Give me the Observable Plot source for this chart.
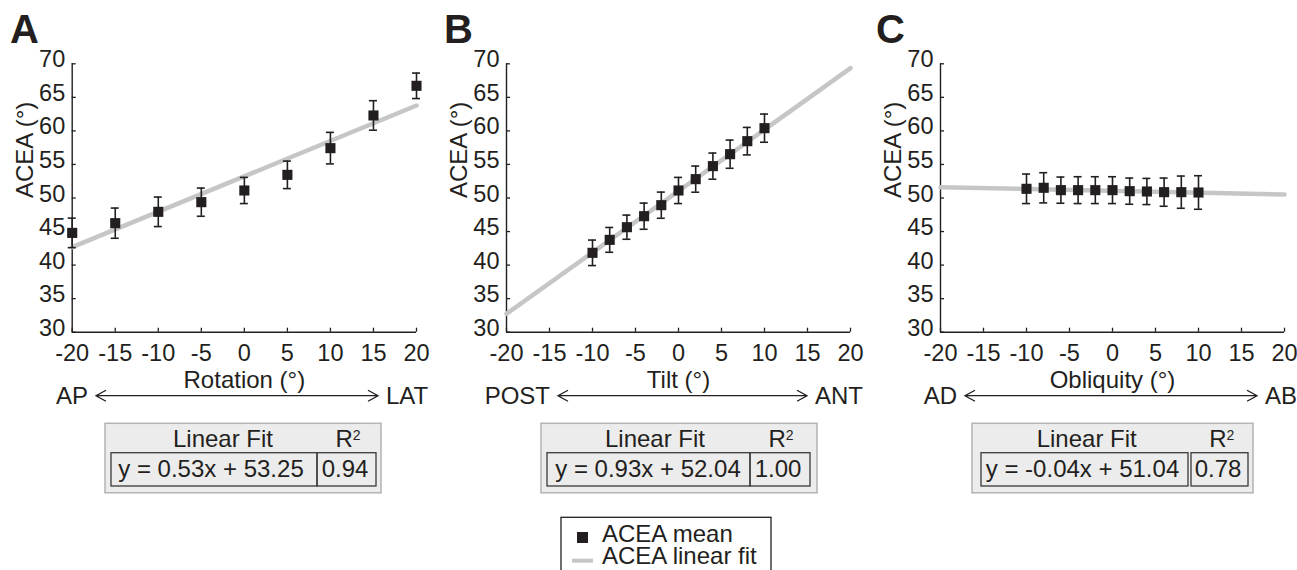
<!DOCTYPE html>
<html><head><meta charset="utf-8">
<script src="https://cdn.jsdelivr.net/npm/d3@7"></script>
<script src="https://cdn.jsdelivr.net/npm/@observablehq/plot@0.6"></script>
<style>
html,body{margin:0;padding:0;background:#fff;}
#root{position:relative;width:1297px;height:570px;overflow:hidden;font-family:"Liberation Sans",Arial,Helvetica,sans-serif;color:#231f20;}
#root svg{position:absolute;top:0;}
</style></head><body><div id="root"></div>
<script>
// ---------- data ----------
const xTicks = [-20, -15, -10, -5, 0, 5, 10, 15, 20];
const yTicks = [30, 35, 40, 45, 50, 55, 60, 65, 70];

const rotationX = [-20, -15, -10, -5, 0, 5, 10, 15, 20];
const rotationMean = [44.8, 46.25, 47.94, 49.38, 51.12, 53.45, 57.43, 62.3, 66.72];
const rotationErr = [2.2, 2.25, 2.2, 2.1, 1.95, 2.05, 2.35, 2.2, 1.9];
const rotationFitX = [-20, 20];
const rotationFitY = [42.67, 63.79];

const tiltX = [-10, -8, -6, -4, -2, 0, 2, 4, 6, 8, 10];
const tiltMean = [41.83, 43.76, 45.65, 47.29, 48.93, 51.12, 52.81, 54.75, 56.53, 58.47, 60.41];
const tiltErr = [1.9, 1.85, 1.8, 1.95, 1.95, 1.95, 1.95, 1.95, 2.1, 2.05, 2.1];
const tiltFitX = [-20, 20];
const tiltFitY = [32.73, 69.35];

const obliquityX = [-10, -8, -6, -4, -2, 0, 2, 4, 6, 8, 10];
const obliquityMean = [51.37, 51.52, 51.17, 51.17, 51.17, 51.17, 51.02, 50.97, 50.87, 50.87, 50.82];
const obliquityErr = [2.2, 2.25, 1.95, 2.0, 2.0, 2.0, 1.95, 1.95, 2.1, 2.4, 2.5];
const obliquityFitX = [-20, 20];
const obliquityFitY = [51.61, 50.52];

const panelLetters = ["A", "B", "C"];
const xLabels = ["Rotation (°)", "Tilt (°)", "Obliquity (°)"];
const leftEnds = ["AP", "POST", "AD"];
const rightEnds = ["LAT", "ANT", "AB"];
const fitEquations = ["y = 0.53x + 53.25", "y = 0.93x + 52.04", "y = -0.04x + 51.04"];
const rSquared = ["0.94", "1.00", "0.78"];
const yLabel = "ACEA (°)";
const fitHeader = "Linear Fit";
const legendLabels = ["ACEA mean", "ACEA linear fit"];

// ---------- style / layout ----------
const ink = "#231f20";
const fitGray = "#c6c6c6";
const FONT = "24px";
const TICKFONT = "23.5px";
const geoms = [
  {left: 0, width: 440, ml: 71.7, mr: 24},
  {left: 430, width: 440, ml: 76, mr: 20},
  {left: 860, width: 437, ml: 80, mr: 13}
];
const deco = [
  {letterX: 10, arrow: [96, 378], outer: [105, 381], eq: [111, 317], r2: [317, 376], eqC: 211, lfC: 223, r2C: 348, valC: 345},
  {letterX: 444, arrow: [558, 807], outer: [541, 817], eq: [547, 750], r2: [750, 810], eqC: 648, lfC: 655, r2C: 781, valC: 778},
  {letterX: 876, arrow: [965, 1257], outer: [972, 1253], eq: [981, 1188], r2: [1191, 1248], eqC: 1082.5, lfC: 1086.7, r2C: 1221.7, valC: 1218}
];

const root = document.getElementById("root");
const series = [
  [rotationX, rotationMean, rotationErr, rotationFitX, rotationFitY],
  [tiltX, tiltMean, tiltErr, tiltFitX, tiltFitY],
  [obliquityX, obliquityMean, obliquityErr, obliquityFitX, obliquityFitY]
];

series.forEach(([xs, means, errs, fx, fy], i) => {
  const g = geoms[i];
  const pts = xs.map((x, k) => ({x, y: means[k], lo: means[k] - errs[k], hi: means[k] + errs[k]}));
  const fit = fx.map((x, k) => ({x, y: fy[k]}));
  const chart = Plot.plot({
    width: g.width, height: 400,
    marginLeft: g.ml, marginRight: g.mr, marginTop: 63.3, marginBottom: 68.3,
    x: {domain: [-20, 20], label: null},
    y: {domain: [30, 70], label: null},
    style: {fontFamily: '"Liberation Sans", Arial, sans-serif', fontSize: TICKFONT, color: ink, background: "transparent", overflow: "visible"},
    marks: [
      Plot.ruleX([-20], {stroke: ink, strokeWidth: 1.4}),
      Plot.ruleY([30], {stroke: ink, strokeWidth: 1.4}),
      Plot.axisX({ticks: xTicks, label: null, tickSize: -4, tickFormat: () => "", stroke: ink, strokeWidth: 1.3}),
      Plot.axisX({ticks: xTicks, label: null, tickSize: 0, tickPadding: 12, tickFormat: d => String(d), fill: ink}),
      Plot.axisY({ticks: yTicks, label: null, tickSize: -4, tickFormat: () => "", stroke: ink, strokeWidth: 1.3}),
      Plot.axisY({ticks: yTicks, label: null, tickSize: 0, tickPadding: 7, dy: -4, tickFormat: d => String(d), fill: ink}),
      Plot.line(fit, {x: "x", y: "y", stroke: fitGray, strokeWidth: 4.5}),
      Plot.ruleX(pts, {x: "x", y1: "lo", y2: "hi", stroke: ink, strokeWidth: 1.6}),
      Plot.ruleY(pts, {y: "hi", x1: "x", x2: "x", insetLeft: -4, insetRight: -4, stroke: ink, strokeWidth: 1.6}),
      Plot.ruleY(pts, {y: "lo", x1: "x", x2: "x", insetLeft: -4, insetRight: -4, stroke: ink, strokeWidth: 1.6}),
      Plot.dot(pts, {x: "x", y: "y", symbol: "square", r: 5.7, fill: ink, stroke: "none"}),
      Plot.text([xLabels[i]], {frameAnchor: "bottom", dy: 55.6, lineAnchor: "bottom", fontSize: FONT, fill: ink}),
      Plot.text([yLabel], {frameAnchor: "left", rotate: -90, dx: -39.5, lineAnchor: "bottom", fontSize: FONT, fill: ink})
    ]
  });
  chart.style.left = g.left + "px";
  root.appendChild(chart);
});

// ---------- overlay: panel letters, direction arrows, fit tables, legend ----------
const NS = "http://www.w3.org/2000/svg";
const ov = document.createElementNS(NS, "svg");
ov.setAttribute("width", 1297); ov.setAttribute("height", 570);
ov.style.left = "0px";
ov.setAttribute("font-family", '"Liberation Sans", Arial, sans-serif');
root.appendChild(ov);
function el(tag, attrs, text) {
  const e = document.createElementNS(NS, tag);
  for (const k in attrs) e.setAttribute(k, attrs[k]);
  if (text != null) e.textContent = text;
  ov.appendChild(e);
  return e;
}
const AY = 395.7;
deco.forEach((d, i) => {
  el("text", {x: d.letterX, y: 43, "font-size": 40, "font-weight": "bold", fill: ink}, panelLetters[i]);
  const [a1, a2] = d.arrow;
  el("path", {d: `M${a1},${AY}H${a2}M${a1 + 10},${AY - 5.5}L${a1},${AY}L${a1 + 10},${AY + 5.5}M${a2 - 10},${AY - 5.5}L${a2},${AY}L${a2 - 10},${AY + 5.5}`, fill: "none", stroke: ink, "stroke-width": 1.3});
  el("text", {x: a1 - 8, y: 404.3, "text-anchor": "end", "font-size": FONT, fill: ink}, leftEnds[i]);
  el("text", {x: a2 + 8, y: 404.3, "text-anchor": "start", "font-size": FONT, fill: ink}, rightEnds[i]);
  // table
  el("rect", {x: d.outer[0], y: 423.3, width: d.outer[1] - d.outer[0], height: 69.5, fill: "#ececec", stroke: "#b3b3b3", "stroke-width": 1.5});
  el("rect", {x: d.eq[0], y: 452.7, width: d.eq[1] - d.eq[0], height: 33.3, fill: "none", stroke: "#3a3a3a", "stroke-width": 1.3});
  el("rect", {x: d.r2[0], y: 452.7, width: d.r2[1] - d.r2[0], height: 33.3, fill: "none", stroke: "#3a3a3a", "stroke-width": 1.3});
  el("text", {x: d.lfC, y: 446.7, "text-anchor": "middle", "font-size": FONT, fill: ink}, fitHeader);
  const r = el("text", {x: d.r2C, y: 446.7, "text-anchor": "middle", "font-size": FONT, fill: ink}, "R");
  const sup = document.createElementNS(NS, "tspan");
  sup.setAttribute("dy", -7); sup.setAttribute("font-size", 14); sup.textContent = "2";
  r.appendChild(sup);
  el("text", {x: d.eqC, y: 476.7, "text-anchor": "middle", "font-size": FONT, fill: ink}, fitEquations[i]);
  el("text", {x: d.valC, y: 476.7, "text-anchor": "middle", "font-size": FONT, fill: ink}, rSquared[i]);
});
// legend
el("rect", {x: 561, y: 517.3, width: 210, height: 70, fill: "#fff", stroke: ink, "stroke-width": 1.3});
el("rect", {x: 577, y: 532, width: 11, height: 11, fill: ink});
el("text", {x: 602, y: 541.7, "font-size": FONT, fill: ink}, legendLabels[0]);
el("line", {x1: 572, x2: 593, y1: 560.7, y2: 560.7, stroke: fitGray, "stroke-width": 4});
el("text", {x: 602, y: 564, "font-size": FONT, fill: ink}, legendLabels[1]);
</script>
</body></html>
